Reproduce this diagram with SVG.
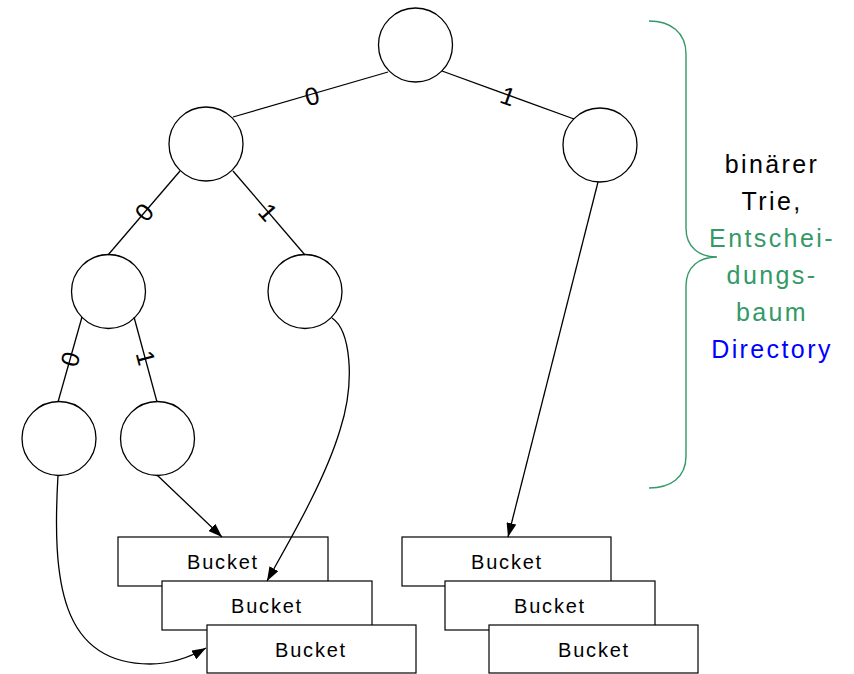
<svg xmlns="http://www.w3.org/2000/svg" width="854" height="674" viewBox="0 0 854 674">
<defs>
<style>
.node{fill:#fff;stroke:#000;stroke-width:1.3}
.edge{fill:none;stroke:#000;stroke-width:1.3}
.bucket{fill:#fff;stroke:#000;stroke-width:1.2}
.btxt{font-family:"Liberation Sans",Arial,sans-serif;font-size:20px;letter-spacing:1.8px;text-anchor:middle;fill:#000}
.lbl{font-family:"Liberation Sans",Arial,sans-serif;font-size:25px;text-anchor:middle;dominant-baseline:central;fill:#000}
.side{font-family:"Liberation Sans",Arial,sans-serif;font-size:25px;letter-spacing:2.4px;text-anchor:middle}
</style>
<marker id="arr" viewBox="0 0 14 10" refX="14" refY="5" markerWidth="14" markerHeight="10" markerUnits="userSpaceOnUse" orient="auto">
<path d="M0,0 L14,5 L0,10 Z" fill="#000"/>
</marker>
</defs>
<rect width="854" height="674" fill="#fff"/>

<g id="root"><circle class="node" cx="415.5" cy="45" r="37"/></g>
<g id="n0"><circle class="node" cx="206" cy="144" r="37"/></g>
<g id="n1"><circle class="node" cx="600" cy="145" r="37"/></g>
<g id="n00"><circle class="node" cx="108.5" cy="291.5" r="37"/></g>
<g id="n01"><circle class="node" cx="305" cy="291.5" r="37"/></g>
<g id="n000"><circle class="node" cx="59" cy="438.5" r="37"/></g>
<g id="n001"><circle class="node" cx="157.5" cy="438.5" r="37"/></g>

<g id="bucketL1"><rect class="bucket" x="118" y="537" width="210" height="49"/><text class="btxt" x="223" y="569">Bucket</text></g>
<g id="bucketL2"><rect class="bucket" x="162" y="581" width="210" height="49"/><text class="btxt" x="267" y="613">Bucket</text></g>
<g id="bucketL3"><rect class="bucket" x="207" y="625" width="209" height="48"/><text class="btxt" x="311" y="657">Bucket</text></g>

<g id="bucketR1"><rect class="bucket" x="402" y="537" width="209" height="49"/><text class="btxt" x="507" y="569">Bucket</text></g>
<g id="bucketR2"><rect class="bucket" x="445" y="581" width="210" height="49"/><text class="btxt" x="550" y="613">Bucket</text></g>
<g id="bucketR3"><rect class="bucket" x="489" y="625" width="209" height="48"/><text class="btxt" x="594" y="657">Bucket</text></g>

<g id="connectors">
<line class="edge" x1="388" y1="72" x2="233" y2="117"/>
<line class="edge" x1="442" y1="71" x2="574" y2="119"/>
<line class="edge" x1="180" y1="171" x2="108" y2="255"/>
<line class="edge" x1="233" y1="171" x2="305" y2="255"/>
<line class="edge" x1="82" y1="317" x2="58" y2="402"/>
<line class="edge" x1="134" y1="317" x2="157" y2="402"/>
<line class="edge" x1="157" y1="475" x2="222" y2="537" marker-end="url(#arr)"/>
<path class="edge" d="M58,475 C52,580 60,664 150,664 C172,664 192,656 206,648" marker-end="url(#arr)"/>
<path class="edge" d="M332,318 C350,330 356,380 340,430 C325,480 290,540 267,581" marker-end="url(#arr)"/>
<line class="edge" x1="598" y1="182" x2="508" y2="537" marker-end="url(#arr)"/>
<text class="lbl" transform="translate(312,96) rotate(-16)">0</text>
<text class="lbl" transform="translate(508,96) rotate(20)">1</text>
<text class="lbl" transform="translate(144,212) rotate(-49)">0</text>
<text class="lbl" transform="translate(268,212) rotate(49)">1</text>
<text class="lbl" transform="translate(70,359) rotate(-74)">0</text>
<text class="lbl" transform="translate(146,358) rotate(75)">1</text>
</g>

<g id="brace">
<path d="M649,21 C670,21 686,32 686,54 L686,228 C686,248 700,257 717,257 C700,257 686,266 686,286 L686,456 C686,478 670,488 649,488" fill="none" stroke="#339966" stroke-width="1.4"/>
</g>

<g id="caption">
<text class="side" x="772" y="173" fill="#000">binärer</text>
<text class="side" x="772" y="210" fill="#000">Trie,</text>
<text class="side" x="772" y="247" fill="#339966">Entschei-</text>
<text class="side" x="772" y="284" fill="#339966">dungs-</text>
<text class="side" x="772" y="321" fill="#339966">baum</text>
<text class="side" x="772" y="358" fill="#0000ff">Directory</text>
</g>
</svg>
